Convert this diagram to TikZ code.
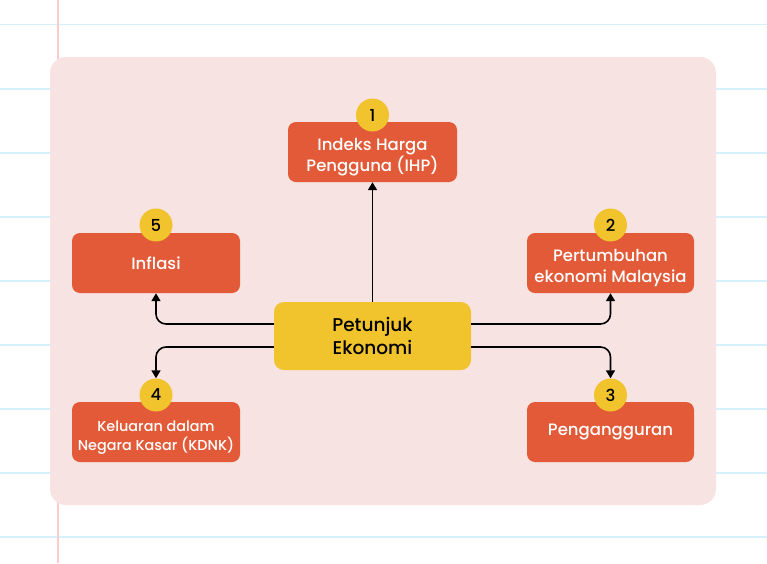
\documentclass[tikz,border=0pt]{standalone}
\usepackage{fontspec}
\setmainfont{Poppins Medium}
\usetikzlibrary{arrows.meta}
\definecolor{bgpink}{HTML}{F7E4E2}
\definecolor{boxred}{HTML}{E25A37}
\definecolor{yel}{HTML}{F1C32C}
\definecolor{rulecol}{HTML}{D5F0FA}
\definecolor{margincol}{HTML}{FFCACC}
\newcommand{\twolines}[2]{\raisebox{-9pt}[0pt][0pt]{\begin{tabular}{@{}c@{}}#1\\#2\end{tabular}}}
\tikzset{
  redbox/.style={fill=boxred, rounded corners=8pt, minimum width=168pt, minimum height=60pt,
    inner sep=0pt, align=center, text=white, font=\fontsize{16.5}{20.5}\selectfont},
  centerbox/.style={fill=yel, rounded corners=10pt, minimum width=197pt, minimum height=68pt,
    inner sep=0pt, align=center, text=black, font=\fontsize{18.5}{22.5}\selectfont},
  numdot/.style={circle, fill=yel, minimum size=33pt, inner sep=0pt, text=black,
    font=\fontsize{16.5}{16.5}\selectfont},
  conn/.style={draw=black, line width=1.6pt, rounded corners=10pt,
    -{Triangle[length=8pt,width=9pt]}},
}
\begin{document}
\begin{tikzpicture}[x=1pt,y=-1pt]
\useasboundingbox (0,0) rectangle (767,563);
\fill[white] (0,0) rectangle (767,563);
\foreach \yy in {24.5,89,153,217,281,345,409,473,537}
  \draw[rulecol, line width=1.6pt] (0,\yy) -- (767,\yy);
\draw[margincol, line width=1.3pt] (58,0) -- (58,563);
\fill[bgpink, rounded corners=16pt] (50,57) rectangle (716,505);

\node[centerbox] (c) at (372.5,336) {Petunjuk\\Ekonomi};
\node[redbox, minimum width=169pt] (b1) at (372.5,152) {\twolines{Indeks Harga}{Pengguna (IHP)}};
\node[redbox] (b5) at (156,263) {Inflasi};
\node[redbox, minimum width=167pt] (b2) at (610.5,263) {\twolines{Pertumbuhan}{ekonomi Malaysia}};
\node[redbox, font=\fontsize{14.4}{17.5}\selectfont] (b4) at (156,432) {\twolines{Keluaran dalam}{Negara Kasar (KDNK)}};
\node[redbox, minimum width=167pt] (b3) at (610.5,432) {Pengangguran};

\node[numdot] (n1) at (372.5,115) {1};
\node[numdot] (n5) at (156,225) {5};
\node[numdot] (n2) at (610.5,225) {2};
\node[numdot] (n4) at (156,395) {4};
\node[numdot] (n3) at (610.5,395) {3};

\draw[conn] (c.north) -- (b1.south);
\draw[conn] ([yshift=12pt]c.west) -| (b5.south);
\draw[conn] ([yshift=12pt]c.east) -| (b2.south);
\draw[conn] ([yshift=-11pt]c.west) -| (n4.north);
\draw[conn] ([yshift=-11pt]c.east) -| (n3.north);
\end{tikzpicture}
\end{document}
